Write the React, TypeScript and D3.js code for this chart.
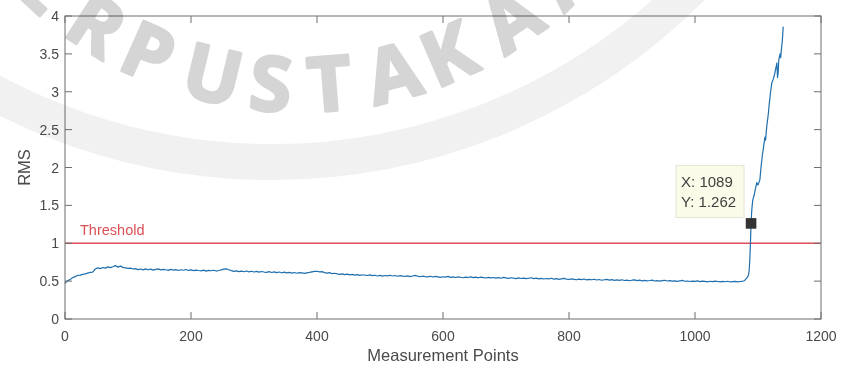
import React from 'react';
import * as d3 from 'd3';

// Canvas and plot box
const W = 843;
const H = 367;
const M = { left: 65, right: 22, top: 16, bottom: 48 };

// Axes
const X_DOMAIN: [number, number] = [0, 1200];
const Y_DOMAIN: [number, number] = [0, 4];
const X_TICKS = [0, 200, 400, 600, 800, 1000, 1200];
const Y_TICKS = [0, 0.5, 1, 1.5, 2, 2.5, 3, 3.5, 4];
const X_LABEL = 'Measurement Points';
const Y_LABEL = 'RMS';

// Threshold level
const THRESHOLD = 1;
const THRESHOLD_LABEL = 'Threshold';

// RMS over the stable part of the run, one value every FLAT_STEP points (0 .. 1076)
const FLAT_STEP = 4;
const rmsFlat = [
  0.47, 0.505, 0.52, 0.545, 0.56, 0.575, 0.58, 0.59, 0.595, 0.605,
  0.615, 0.62, 0.66, 0.675, 0.665, 0.68, 0.672, 0.688, 0.678, 0.69,
  0.705, 0.685, 0.698, 0.682, 0.676, 0.668, 0.672, 0.66, 0.665, 0.652,
  0.66, 0.648, 0.662, 0.65, 0.658, 0.645, 0.655, 0.662, 0.648, 0.656,
  0.65, 0.642, 0.655, 0.646, 0.652, 0.64, 0.65, 0.644, 0.654, 0.641,
  0.648, 0.638, 0.646, 0.64, 0.636, 0.645, 0.632, 0.642, 0.637, 0.644,
  0.633, 0.64, 0.648, 0.658, 0.662, 0.65, 0.638, 0.628, 0.635, 0.626,
  0.632, 0.624, 0.634, 0.622, 0.63, 0.62, 0.628, 0.618, 0.627, 0.62,
  0.616, 0.626, 0.614, 0.622, 0.612, 0.62, 0.61, 0.618, 0.608, 0.615,
  0.606, 0.614, 0.604, 0.612, 0.608, 0.602, 0.61, 0.615, 0.622, 0.628,
  0.63, 0.622, 0.625, 0.612, 0.606, 0.612, 0.598, 0.604, 0.596, 0.59,
  0.596, 0.586, 0.592, 0.582, 0.59, 0.58, 0.585, 0.576, 0.584, 0.578,
  0.574, 0.582, 0.572, 0.578, 0.568, 0.576, 0.566, 0.574, 0.57, 0.578,
  0.568, 0.574, 0.564, 0.572, 0.566, 0.562, 0.57, 0.56, 0.568, 0.575,
  0.565, 0.558, 0.566, 0.56, 0.556, 0.564, 0.554, 0.562, 0.557, 0.55,
  0.558, 0.552, 0.562, 0.55, 0.556, 0.548, 0.557, 0.551, 0.545, 0.553,
  0.548, 0.556, 0.546, 0.552, 0.544, 0.553, 0.547, 0.541, 0.55, 0.543,
  0.548, 0.54, 0.546, 0.538, 0.55, 0.542, 0.536, 0.545, 0.539, 0.534,
  0.542, 0.535, 0.54, 0.532, 0.538, 0.544, 0.533, 0.539, 0.53, 0.536,
  0.528, 0.535, 0.53, 0.538, 0.526, 0.532, 0.524, 0.53, 0.536, 0.526,
  0.522, 0.53, 0.524, 0.518, 0.526, 0.52, 0.528, 0.516, 0.523, 0.518,
  0.525, 0.515, 0.521, 0.512, 0.518, 0.524, 0.513, 0.519, 0.511, 0.516,
  0.51, 0.518, 0.508, 0.514, 0.505, 0.512, 0.517, 0.507, 0.513, 0.504,
  0.51, 0.503, 0.508, 0.514, 0.502, 0.507, 0.5, 0.506, 0.511, 0.502,
  0.506, 0.499, 0.504, 0.497, 0.503, 0.509, 0.498, 0.502, 0.495, 0.501,
  0.497, 0.503, 0.494, 0.5, 0.496, 0.491, 0.498, 0.493, 0.5, 0.495,
  0.49, 0.496, 0.492, 0.498, 0.489, 0.494, 0.497, 0.49, 0.495, 0.5,
];

// RMS during the failure surge
const riseX = [
  1078, 1080, 1082, 1084, 1085, 1086, 1087, 1088, 1089, 1090,
  1091, 1092, 1094, 1096, 1098, 1100, 1101, 1103, 1105, 1107,
  1109, 1111, 1112, 1114, 1116, 1118, 1120, 1122, 1124, 1126,
  1128, 1130, 1131, 1132, 1133, 1135, 1136, 1137, 1138, 1139, 1140,
];
const riseRms = [
  0.505, 0.52, 0.54, 0.56, 0.59, 0.64, 0.78, 1.0, 1.262, 1.42,
  1.52, 1.58, 1.64, 1.72, 1.8, 1.77, 1.79, 1.84, 2.02, 2.17,
  2.28, 2.4, 2.36, 2.55, 2.68, 2.85, 3.0, 3.12, 3.16, 3.22,
  3.3, 3.38, 3.19, 3.25, 3.42, 3.5, 3.45, 3.55, 3.62, 3.72, 3.86,
];

// Data tip
const TIP_X = 1089;
const TIP_Y = 1.262;

// Library watermark ring
const WATERMARK = 'PERPUSTAKAAN';
const WM_ANGLES = [-53, -43, -33, -24, -13.5, -4.5, 4.5, 14.5, 23.5, 34.5, 45, 55.5];

const FONT = '"Liberation Sans", Arial, Helvetica, sans-serif';
const AXIS_COLOR = '#6e6e6e';
const TEXT_COLOR = '#4a4a4a';
const LINE_COLOR = '#1f6fae';
const RED = '#dc4f55';

export default function App() {
  const x0 = M.left;
  const x1 = W - M.right;
  const y0 = H - M.bottom;
  const y1 = M.top;

  const x = d3.scaleLinear().domain(X_DOMAIN).range([x0, x1]);
  const y = d3.scaleLinear().domain(Y_DOMAIN).range([y0, y1]);

  const points: [number, number][] = [
    ...rmsFlat.map((v, i) => [i * FLAT_STEP, v] as [number, number]),
    ...riseX.map((px, i) => [px, riseRms[i]] as [number, number]),
  ];
  const line = d3
    .line<[number, number]>()
    .x((d) => x(d[0]))
    .y((d) => y(d[1]));

  const tickLen = 7;
  const fmt = d3.format('~g');

  const mx = x(TIP_X);
  const my = y(TIP_Y);
  const tipW = 68;
  const tipH = 52;
  const tipRight = mx - 7;
  const tipBottom = my - 6;

  // watermark geometry
  const wmCx = 300;
  const wmCy = -288;
  const wmR = 400;
  const wmGray = '#d5d5d5';

  return (
    <svg
      width={W}
      height={H}
      viewBox={`0 0 ${W} ${H}`}
      style={{ position: 'absolute', left: 0, top: 0, display: 'block', background: '#fff' }}
    >
      <rect x={0} y={0} width={W} height={H} fill="#fff" />

      {/* threshold */}
      <line x1={x0} x2={x1} y1={y(THRESHOLD)} y2={y(THRESHOLD)} stroke={RED} strokeWidth={1.4} />
      <text
        x={x0 + 15}
        y={y(THRESHOLD) - 8}
        fill={RED}
        fontFamily={FONT}
        fontSize={14.5}
      >
        {THRESHOLD_LABEL}
      </text>

      {/* RMS trace */}
      <path d={line(points) || ''} fill="none" stroke={LINE_COLOR} strokeWidth={1.2} strokeLinejoin="round" />

      {/* axes box */}
      <rect x={x0} y={y1} width={x1 - x0} height={y0 - y1} fill="none" stroke={AXIS_COLOR} strokeWidth={1} />

      {X_TICKS.map((t) => (
        <g key={`xt${t}`}>
          <line x1={x(t)} x2={x(t)} y1={y0} y2={y0 - tickLen} stroke={AXIS_COLOR} />
          <line x1={x(t)} x2={x(t)} y1={y1} y2={y1 + tickLen} stroke={AXIS_COLOR} />
          <text
            x={x(t)}
            y={y0 + 22}
            textAnchor="middle"
            fill={TEXT_COLOR}
            fontFamily={FONT}
            fontSize={14}
          >
            {fmt(t)}
          </text>
        </g>
      ))}

      {Y_TICKS.map((t) => (
        <g key={`yt${t}`}>
          <line x1={x0} x2={x0 + tickLen} y1={y(t)} y2={y(t)} stroke={AXIS_COLOR} />
          <line x1={x1} x2={x1 - tickLen} y1={y(t)} y2={y(t)} stroke={AXIS_COLOR} />
          <text
            x={x0 - 6}
            y={y(t)}
            dy="0.36em"
            textAnchor="end"
            fill={TEXT_COLOR}
            fontFamily={FONT}
            fontSize={14}
          >
            {fmt(t)}
          </text>
        </g>
      ))}

      <text
        x={(x0 + x1) / 2}
        y={H - 6}
        textAnchor="middle"
        fill={TEXT_COLOR}
        fontFamily={FONT}
        fontSize={16.5}
      >
        {X_LABEL}
      </text>
      <text
        transform={`translate(30, ${(y0 + y1) / 2}) rotate(-90)`}
        textAnchor="middle"
        fill={TEXT_COLOR}
        fontFamily={FONT}
        fontSize={16.5}
      >
        {Y_LABEL}
      </text>

      {/* data tip */}
      <rect
        x={tipRight - tipW}
        y={tipBottom - tipH}
        width={tipW}
        height={tipH}
        fill="#fbfbe9"
        stroke="#e3e3d6"
        strokeWidth={1}
      />
      <text x={tipRight - tipW + 5} y={tipBottom - 30} fill="#3f3f3f" fontFamily={FONT} fontSize={15}>
        {`X: ${TIP_X}`}
      </text>
      <text x={tipRight - tipW + 5} y={tipBottom - 10} fill="#3f3f3f" fontFamily={FONT} fontSize={15}>
        {`Y: ${TIP_Y}`}
      </text>
      <rect x={mx - 5.3} y={my - 5.3} width={10.6} height={10.6} fill="#333" />

      {/* watermark, multiplied over the chart */}
      <g pointerEvents="none" style={{ mixBlendMode: 'multiply' }}>
        <circle cx={272} cy={-430} r={592} fill="none" stroke="#f1f1f1" strokeWidth={36} style={{ mixBlendMode: 'multiply' }} />
        {WATERMARK.split('').map((ch, i) => (
          <text
            key={`wm${i}`}
            transform={`translate(${wmCx}, ${wmCy}) rotate(${-WM_ANGLES[i]}) translate(0, ${wmR})`}
            textAnchor="middle"
            fontFamily='"Open Sans", "DejaVu Sans", sans-serif'
            fontWeight={700}
            fontSize={76}
            fill={wmGray}
            stroke={wmGray}
            strokeWidth={3}
            strokeLinejoin="round"
            style={{ mixBlendMode: 'multiply' }}
          >
            {ch}
          </text>
        ))}
      </g>
    </svg>
  );
}
